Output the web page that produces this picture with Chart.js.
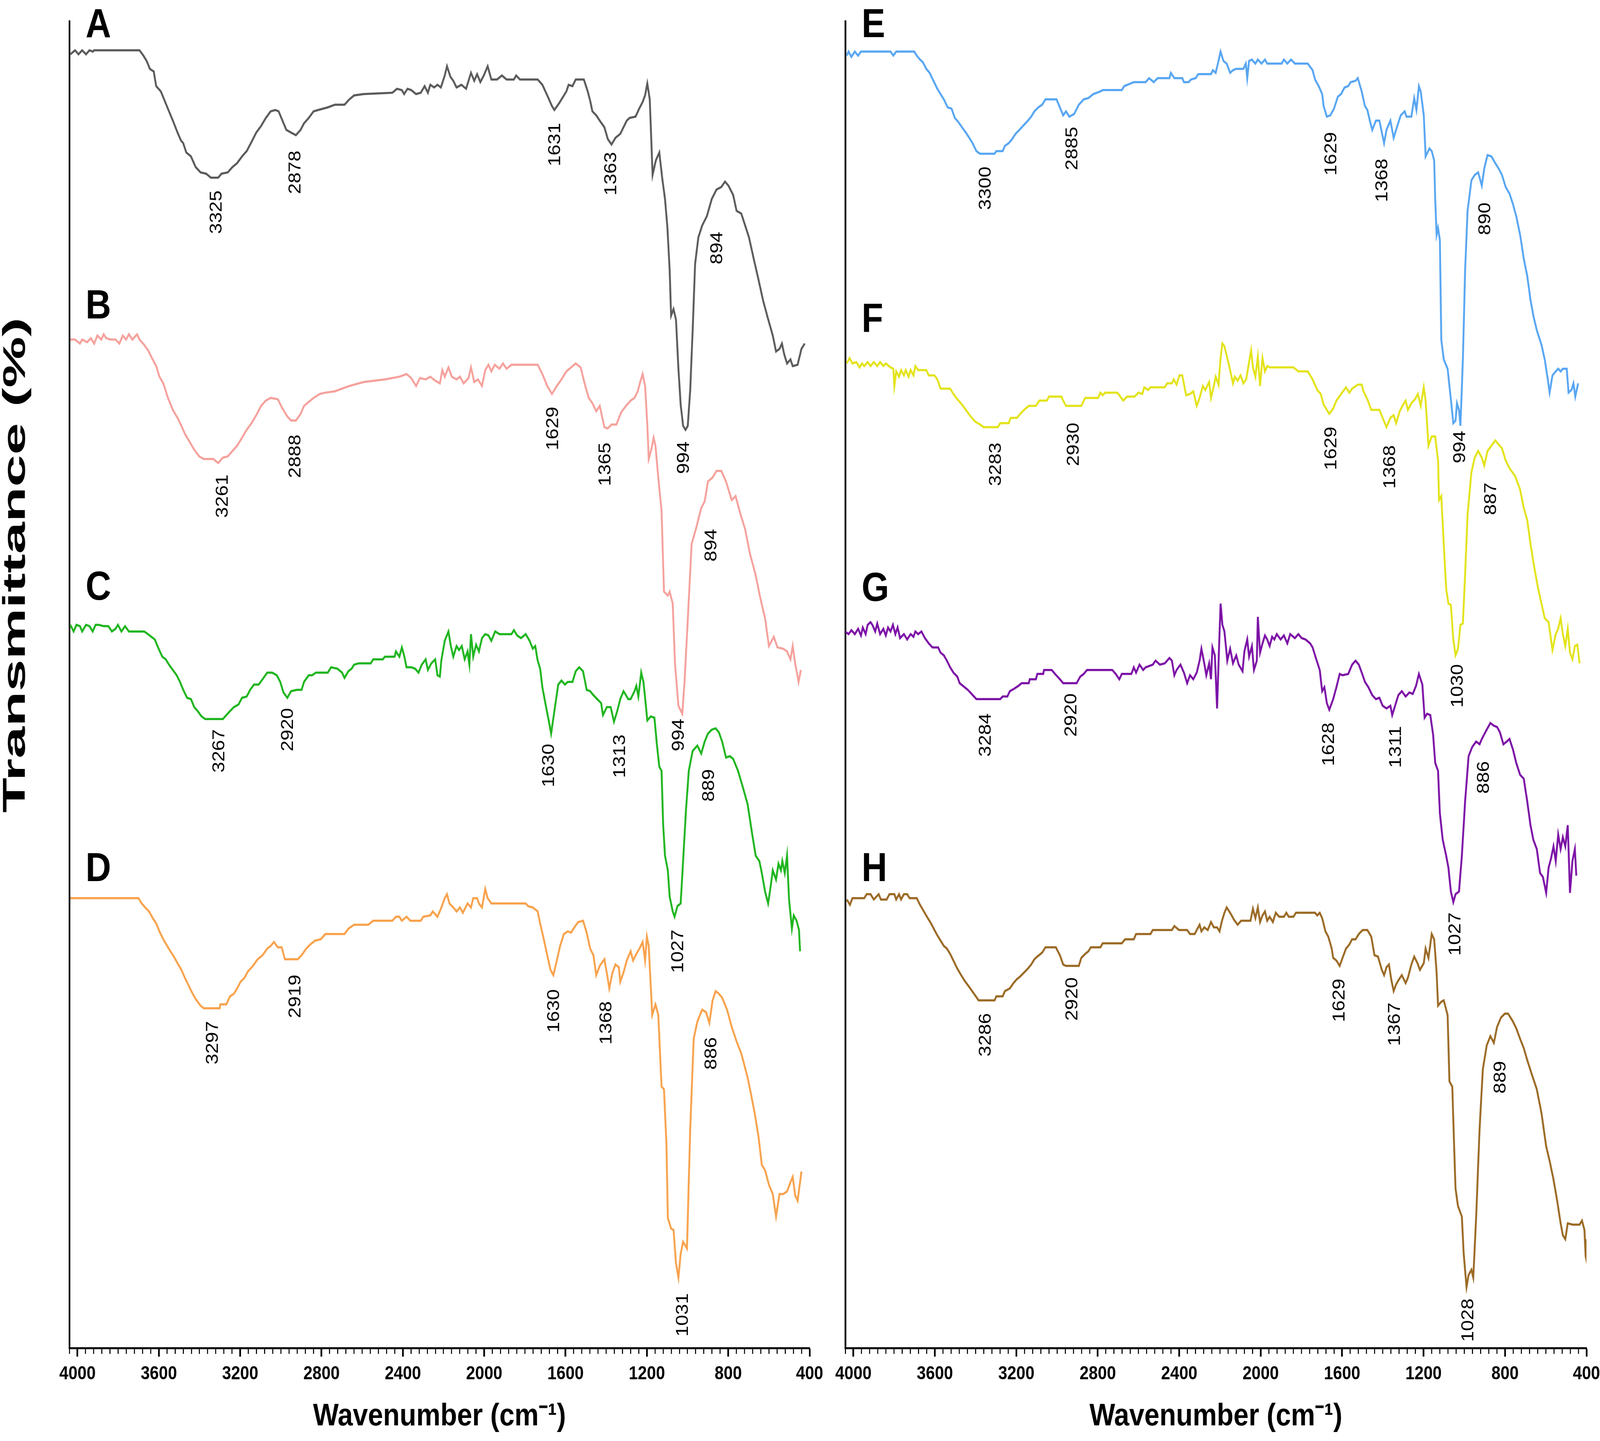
<!DOCTYPE html>
<html>
<head>
<meta charset="utf-8">
<title>FTIR spectra A-H</title>
<script src="https://cdn.jsdelivr.net/npm/chart.js@4.4.1/dist/chart.umd.min.js"></script>
<style>
  html, body { margin: 0; padding: 0; background: #fff; overflow: hidden; }
  #wrap { position: relative; overflow: hidden; background: #fff; }
  canvas { position: absolute; top: 0; }
</style>
</head>
<body>
<div id="wrap">
  <canvas id="left" width="2440" height="3688"></canvas>
  <canvas id="right" width="2300" height="3688"></canvas>
</div>
<script>
// wavenumber (cm-1), transmittance (offset per trace, arbitrary %)
const spectrumA = [[4035,97.5],[4012,97.8],[3995,97.5],[3977,97.8],[3958,97.5],[3941,97.8],[3925,97.7],[3918,97.8],[3695,97.8],[3676,97.4],[3660,97.0],[3644,96.4],[3625,96.2],[3613,95.1],[3590,94.7],[3566,93.8],[3550,93.2],[3531,92.5],[3508,91.6],[3491,91.0],[3480,90.8],[3465,90.1],[3442,89.8],[3419,89.0],[3395,88.6],[3367,88.5],[3344,88.2],[3308,88.2],[3292,88.5],[3261,88.6],[3238,89.0],[3215,89.3],[3191,89.8],[3168,90.2],[3144,90.9],[3121,91.6],[3097,92.1],[3074,92.7],[3050,93.2],[3027,93.3],[3011,93.2],[2992,92.5],[2973,91.8],[2950,91.6],[2926,91.4],[2903,91.8],[2886,92.3],[2863,92.7],[2839,93.2],[2816,93.3],[2769,93.5],[2734,93.7],[2687,93.7],[2663,94.1],[2640,94.4],[2593,94.5],[2452,94.6],[2429,94.9],[2405,94.8],[2394,94.5],[2377,94.9],[2359,94.8],[2335,94.5],[2312,94.6],[2293,95.1],[2277,94.6],[2265,95.2],[2246,95.0],[2230,95.2],[2213,95.0],[2194,95.9],[2183,96.6],[2166,95.8],[2152,95.5],[2136,95.0],[2112,95.2],[2089,94.9],[2065,96.1],[2049,95.5],[2035,96.0],[2019,95.4],[2002,95.9],[1983,96.6],[1965,95.6],[1937,95.6],[1913,95.9],[1890,95.6],[1854,95.6],[1843,95.9],[1824,95.6],[1737,95.6],[1714,95.2],[1690,94.4],[1667,93.6],[1655,93.3],[1632,93.8],[1596,94.7],[1585,95.2],[1566,95.1],[1550,95.6],[1510,95.6],[1491,94.7],[1479,94.0],[1468,93.2],[1449,92.9],[1432,92.5],[1409,92.0],[1392,91.1],[1374,90.7],[1355,91.2],[1331,91.5],[1315,92.0],[1299,92.5],[1285,92.7],[1256,92.8],[1238,93.4],[1221,93.9],[1209,94.4],[1198,95.3],[1186,94.1],[1172,88.4],[1156,89.5],[1139,90.1],[1125,88.2],[1111,86.6],[1099,84.4],[1088,81.2],[1081,77.8],[1069,78.3],[1057,77.5],[1045,73.8],[1034,71.1],[1022,69.5],[1010,69.2],[999,69.5],[987,72.2],[975,76.7],[963,81.7],[947,83.7],[928,84.6],[905,85.3],[881,86.6],[858,87.3],[834,87.5],[816,87.9],[799,87.6],[776,86.9],[759,85.7],[736,85.5],[717,84.6],[698,83.7],[675,82.1],[651,80.5],[628,78.9],[605,77.6],[581,76.3],[565,75.1],[548,75.3],[536,75.7],[525,74.9],[511,74.2],[494,74.5],[483,74.0],[459,74.1],[440,75.3],[424,75.7]];
const spectrumB = [[4035,76.0],[4012,76.0],[3988,75.7],[3977,76.0],[3953,75.8],[3934,76.1],[3918,75.7],[3902,76.3],[3883,76.0],[3871,76.4],[3859,76.1],[3836,76.0],[3813,76.0],[3794,75.7],[3777,76.3],[3761,76.0],[3747,76.4],[3730,76.0],[3707,76.4],[3695,76.0],[3672,75.6],[3653,75.2],[3637,74.7],[3613,74.0],[3597,73.2],[3578,72.7],[3555,71.6],[3531,70.7],[3508,70.1],[3489,69.5],[3472,68.9],[3449,68.3],[3426,67.7],[3402,67.2],[3379,67.0],[3332,67.0],[3308,66.7],[3285,67.1],[3261,67.2],[3238,67.6],[3215,68.0],[3191,68.6],[3168,69.2],[3144,69.7],[3121,70.3],[3097,71.0],[3074,71.4],[3050,71.6],[3015,71.5],[2992,70.8],[2968,70.2],[2950,69.9],[2926,69.9],[2903,70.4],[2886,71.0],[2863,71.3],[2839,71.6],[2809,71.9],[2781,72.0],[2734,72.1],[2699,72.3],[2663,72.5],[2593,72.8],[2488,73.0],[2417,73.2],[2382,73.4],[2359,73.1],[2335,72.5],[2316,73.1],[2288,73.0],[2265,73.2],[2241,72.9],[2218,72.7],[2206,73.7],[2194,73.2],[2176,73.9],[2159,73.2],[2136,73.0],[2119,73.2],[2101,72.7],[2077,73.1],[2065,73.9],[2049,72.8],[2031,73.0],[2011,72.5],[1995,73.7],[1979,74.1],[1965,73.6],[1948,74.1],[1925,73.8],[1908,74.2],[1890,73.8],[1866,74.1],[1737,74.1],[1714,73.4],[1690,72.5],[1667,71.9],[1643,72.5],[1620,73.0],[1596,73.6],[1573,73.9],[1550,74.2],[1526,73.9],[1503,72.5],[1486,71.6],[1468,71.2],[1449,70.6],[1432,71.0],[1409,69.4],[1393,69.3],[1374,69.6],[1350,69.6],[1327,70.5],[1303,71.0],[1280,71.4],[1261,71.6],[1245,72.1],[1233,72.8],[1221,73.4],[1209,72.5],[1198,69.6],[1191,67.0],[1177,67.8],[1167,68.6],[1158,68.0],[1144,65.6],[1128,63.1],[1116,57.0],[1097,56.7],[1088,57.0],[1073,56.1],[1062,51.6],[1045,48.4],[1026,47.8],[1015,50.2],[999,54.9],[980,60.6],[956,61.9],[933,63.3],[916,63.8],[900,65.3],[877,65.6],[858,66.1],[834,66.1],[811,65.3],[783,63.9],[764,64.2],[741,62.9],[717,61.7],[694,59.9],[666,58.3],[642,56.5],[619,55.0],[600,52.9],[576,53.6],[558,52.8],[530,52.7],[511,52.5],[494,51.9],[483,52.9],[471,51.6],[454,50.2],[443,51.1]];
const spectrumC = [[4035,54.5],[4019,54.0],[4005,54.5],[3988,54.4],[3977,54.0],[3958,54.5],[3941,54.4],[3925,54.0],[3911,54.5],[3895,54.5],[3871,54.4],[3848,54.4],[3831,54.0],[3813,54.2],[3801,54.5],[3784,54.0],[3766,54.4],[3747,54.0],[3672,54.0],[3653,53.8],[3637,53.6],[3620,53.4],[3601,52.7],[3583,52.1],[3566,51.9],[3550,51.5],[3531,51.1],[3512,50.7],[3496,50.2],[3480,49.6],[3461,49.0],[3442,48.9],[3426,48.3],[3409,48.0],[3390,47.6],[3372,47.4],[3285,47.4],[3268,47.7],[3250,48.0],[3231,48.3],[3208,48.5],[3191,49.0],[3168,49.1],[3151,49.6],[3132,50.0],[3109,50.0],[3090,50.4],[3067,50.9],[3043,50.9],[3020,50.7],[3003,50.2],[2987,49.4],[2968,49.0],[2950,49.5],[2921,49.6],[2898,49.6],[2886,50.2],[2863,50.7],[2846,50.7],[2828,50.9],[2769,50.9],[2753,51.3],[2722,51.2],[2699,50.9],[2687,50.5],[2668,51.0],[2652,51.2],[2640,51.5],[2617,51.6],[2558,51.6],[2546,51.9],[2499,51.9],[2488,52.1],[2441,52.1],[2434,52.5],[2417,52.1],[2405,52.8],[2394,52.2],[2382,51.3],[2359,51.3],[2340,51.2],[2323,50.9],[2307,51.5],[2288,51.9],[2277,51.1],[2260,51.6],[2241,51.9],[2230,50.7],[2218,50.6],[2211,51.8],[2194,53.3],[2176,54.0],[2164,52.9],[2152,52.1],[2136,52.9],[2124,52.6],[2110,52.9],[2096,51.9],[2082,52.5],[2073,51.5],[2065,53.8],[2054,52.1],[2040,53.0],[2026,52.5],[2011,53.5],[1995,53.8],[1979,53.7],[1965,53.3],[1946,54.0],[1925,53.8],[1866,53.8],[1854,54.1],[1838,53.7],[1819,53.5],[1796,53.8],[1777,53.3],[1761,52.7],[1749,52.9],[1737,51.8],[1725,51.2],[1714,49.8],[1697,48.4],[1683,47.3],[1671,46.3],[1655,48.0],[1636,50.0],[1620,50.3],[1603,50.0],[1589,50.2],[1566,50.2],[1550,51.0],[1533,51.3],[1514,51.0],[1496,49.6],[1479,49.5],[1463,49.2],[1444,48.9],[1425,48.6],[1416,47.7],[1397,48.3],[1378,48.3],[1362,47.2],[1346,48.0],[1331,48.9],[1315,49.5],[1303,49.2],[1292,48.9],[1280,48.9],[1261,49.5],[1252,49.9],[1242,49.1],[1228,50.9],[1217,50.2],[1205,48.4],[1198,47.3],[1181,47.6],[1163,47.5],[1151,45.5],[1139,43.8],[1128,43.5],[1120,39.4],[1111,37.1],[1097,36.0],[1088,34.0],[1073,32.9],[1064,32.5],[1050,33.3],[1034,33.5],[1022,36.7],[1008,40.5],[994,43.5],[975,45.0],[952,45.4],[933,44.8],[916,45.7],[900,46.3],[881,46.6],[862,46.7],[846,46.4],[830,45.7],[811,44.5],[792,44.6],[776,44.4],[752,43.5],[729,42.3],[705,41.0],[682,38.7],[665,37.1],[647,36.7],[635,35.8],[619,34.4],[604,33.5],[595,34.4],[581,36.0],[565,35.3],[553,36.5],[541,36.0],[534,36.7],[522,35.8],[511,37.1],[501,33.8],[487,31.6],[478,32.6],[464,32.2],[452,31.5],[447,29.9]];
const spectrumD = [[4035,33.9],[3700,33.9],[3684,33.5],[3667,33.2],[3648,32.9],[3630,32.4],[3613,32.0],[3597,31.4],[3578,30.8],[3559,30.3],[3543,29.9],[3526,29.5],[3508,29.0],[3489,28.5],[3472,27.9],[3456,27.4],[3437,26.8],[3419,26.3],[3395,25.8],[3379,25.6],[3301,25.6],[3297,25.9],[3268,25.9],[3250,26.5],[3231,26.7],[3215,27.1],[3198,27.6],[3179,27.9],[3161,28.4],[3137,28.8],[3114,29.3],[3090,29.6],[3067,30.1],[3050,30.3],[3034,30.6],[3015,30.2],[2996,30.2],[2980,29.3],[2917,29.3],[2898,29.6],[2875,30.1],[2856,30.4],[2832,30.7],[2804,30.8],[2781,31.2],[2687,31.2],[2668,31.6],[2640,31.9],[2570,31.9],[2546,32.2],[2452,32.2],[2434,32.5],[2417,32.5],[2405,32.2],[2382,32.5],[2363,32.2],[2312,32.2],[2300,32.5],[2265,32.6],[2253,32.9],[2230,32.5],[2213,33.1],[2194,33.9],[2183,34.2],[2171,33.5],[2152,33.2],[2136,32.9],[2119,33.2],[2105,32.8],[2082,33.5],[2065,33.2],[2054,33.9],[2035,33.9],[2026,33.5],[2011,33.2],[1995,34.6],[1983,33.9],[1965,33.5],[1796,33.5],[1784,33.3],[1761,33.2],[1737,32.9],[1725,32.0],[1707,30.8],[1690,29.6],[1674,28.5],[1660,28.1],[1643,29.2],[1627,30.3],[1608,31.2],[1589,31.4],[1573,31.3],[1557,31.7],[1538,32.1],[1514,32.2],[1496,31.3],[1479,30.1],[1463,29.6],[1449,28.1],[1432,28.8],[1409,29.3],[1392,27.8],[1385,27.1],[1369,28.3],[1355,28.9],[1338,28.7],[1331,27.6],[1315,28.3],[1299,29.2],[1280,29.9],[1268,29.2],[1252,29.7],[1233,30.2],[1221,30.6],[1209,29.2],[1200,31.0],[1191,30.3],[1174,25.1],[1158,25.9],[1144,25.1],[1128,19.7],[1116,19.5],[1104,15.4],[1097,9.8],[1081,9.0],[1069,8.9],[1057,6.4],[1045,5.3],[1034,7.1],[1022,8.0],[1003,7.5],[987,16.5],[970,23.3],[952,24.6],[928,25.5],[909,25.3],[893,24.5],[877,26.2],[862,26.9],[846,26.7],[830,26.4],[806,25.5],[783,24.2],[759,23.1],[736,22.2],[705,20.4],[689,19.2],[670,17.7],[651,15.9],[635,13.8],[619,13.4],[600,12.3],[581,11.6],[565,9.9],[548,11.6],[530,11.6],[511,11.8],[494,12.5],[483,12.9],[471,11.5],[459,11.1],[440,13.3]];
const spectrumE = [[4033,97.4],[4024,97.7],[4010,97.3],[3993,97.7],[3977,97.4],[3963,97.7],[3818,97.7],[3804,97.4],[3790,97.7],[3701,97.7],[3689,97.4],[3673,97.1],[3659,96.9],[3642,96.4],[3626,96.1],[3607,95.5],[3588,94.9],[3572,94.5],[3556,94.1],[3537,93.5],[3518,93.4],[3502,92.7],[3485,92.4],[3467,92.0],[3448,91.6],[3431,91.2],[3415,90.8],[3396,90.2],[3378,90.0],[3307,90.0],[3298,90.2],[3267,90.2],[3256,90.6],[3237,90.8],[3221,91.1],[3204,91.5],[3185,91.8],[3167,92.1],[3143,92.5],[3127,92.8],[3111,93.2],[3092,93.5],[3073,93.7],[3057,94.1],[3003,94.1],[2986,93.5],[2970,92.9],[2956,93.2],[2940,92.8],[2916,93.0],[2893,93.7],[2869,94.1],[2846,94.2],[2822,94.5],[2787,94.7],[2776,94.8],[2682,94.8],[2670,95.1],[2623,95.4],[2565,95.4],[2548,95.7],[2525,95.4],[2506,95.7],[2448,95.7],[2441,96.1],[2424,95.7],[2385,95.7],[2377,95.4],[2354,95.4],[2342,95.6],[2319,95.7],[2307,96.0],[2244,96.0],[2235,96.3],[2221,96.1],[2207,97.0],[2197,97.7],[2183,97.0],[2167,96.8],[2150,96.1],[2136,96.3],[2120,96.4],[2085,96.4],[2073,96.8],[2066,95.7],[2057,97.0],[2043,97.1],[2026,96.8],[2014,97.1],[1996,96.8],[1979,97.1],[1968,96.8],[1897,96.8],[1886,97.1],[1869,96.8],[1851,97.1],[1832,96.8],[1769,96.8],[1745,96.3],[1733,95.6],[1715,95.1],[1698,94.5],[1691,93.6],[1675,92.8],[1658,92.9],[1640,93.4],[1621,94.3],[1605,94.5],[1588,95.0],[1570,95.1],[1558,95.4],[1534,95.5],[1523,95.7],[1504,94.7],[1488,93.6],[1476,93.3],[1464,92.5],[1452,91.8],[1434,92.5],[1417,92.5],[1394,90.8],[1382,91.8],[1363,92.5],[1347,91.2],[1331,92.0],[1312,92.9],[1293,93.2],[1284,92.8],[1260,92.8],[1246,94.2],[1235,93.3],[1223,95.1],[1214,94.7],[1199,92.9],[1190,89.8],[1171,90.4],[1160,90.2],[1148,89.5],[1143,86.6],[1136,83.9],[1129,84.4],[1120,83.5],[1113,76.0],[1101,74.5],[1082,73.8],[1066,71.5],[1054,69.7],[1043,69.9],[1036,71.2],[1026,70.7],[1019,69.5],[1007,74.5],[996,81.2],[984,85.7],[965,88.0],[949,88.4],[932,88.6],[914,87.6],[902,88.9],[886,89.9],[867,89.8],[848,89.3],[832,88.9],[815,88.4],[797,87.5],[778,87.0],[761,86.2],[745,85.3],[726,83.9],[708,82.1],[691,80.8],[675,79.0],[661,77.8],[644,76.7],[621,75.6],[605,74.5],[591,73.1],[581,72.0],[567,73.3],[551,73.6],[539,73.8],[527,73.6],[516,73.8],[497,73.8],[488,72.0],[474,72.2],[464,72.7],[455,71.7],[441,72.7]];
const spectrumF = [[4033,74.2],[4019,74.6],[4005,74.2],[3986,74.3],[3970,73.9],[3958,74.2],[3947,74.0],[3930,74.3],[3916,74.0],[3900,74.3],[3883,74.0],[3869,74.3],[3853,74.0],[3841,74.2],[3818,73.9],[3804,73.8],[3799,72.5],[3790,73.6],[3776,73.2],[3766,73.7],[3752,73.3],[3743,73.7],[3729,73.2],[3719,73.7],[3705,73.3],[3696,74.0],[3682,73.7],[3642,73.7],[3630,73.3],[3602,73.3],[3588,73.0],[3572,72.3],[3525,72.3],[3513,72.0],[3495,71.6],[3478,71.3],[3462,71.0],[3443,70.6],[3424,70.2],[3401,69.8],[3378,69.6],[3361,69.4],[3291,69.4],[3279,69.7],[3237,69.7],[3228,70.1],[3197,70.1],[3181,70.4],[3162,70.7],[3139,71.0],[3104,71.0],[3087,71.4],[3050,71.4],[3040,71.7],[2979,71.7],[2970,71.4],[2956,71.0],[2881,71.0],[2862,71.6],[2799,71.6],[2787,72.0],[2776,71.8],[2764,72.0],[2705,72.0],[2694,71.8],[2675,71.4],[2656,71.7],[2619,71.7],[2600,72.0],[2581,71.9],[2572,72.4],[2553,72.2],[2541,72.4],[2471,72.4],[2459,72.7],[2436,72.7],[2427,73.0],[2413,72.6],[2399,73.3],[2385,73.3],[2375,72.5],[2366,71.8],[2347,71.9],[2331,72.1],[2314,71.0],[2300,71.6],[2284,72.5],[2272,72.2],[2253,72.8],[2244,71.6],[2230,72.5],[2221,73.2],[2207,72.6],[2197,74.6],[2188,75.7],[2178,75.5],[2164,74.6],[2150,73.7],[2136,72.7],[2127,73.2],[2113,72.9],[2099,73.3],[2085,72.7],[2071,73.0],[2057,74.3],[2047,75.2],[2038,73.9],[2026,73.2],[2014,74.7],[2003,72.5],[1991,74.6],[1979,73.6],[1968,74.0],[1956,73.9],[1839,73.9],[1815,73.6],[1769,73.6],[1745,73.0],[1722,72.2],[1705,71.9],[1691,71.1],[1675,70.7],[1663,70.4],[1644,70.8],[1628,71.4],[1605,71.9],[1581,72.4],[1565,72.0],[1551,72.3],[1523,72.6],[1504,72.6],[1495,72.1],[1476,71.5],[1457,70.7],[1417,70.7],[1401,70.1],[1382,69.4],[1363,70.1],[1347,70.3],[1335,69.7],[1317,70.6],[1300,71.1],[1288,71.4],[1277,70.7],[1260,71.2],[1242,71.5],[1228,71.9],[1214,71.0],[1199,72.4],[1190,71.4],[1176,68.0],[1160,68.7],[1143,68.7],[1129,66.9],[1124,63.9],[1113,64.2],[1101,60.6],[1089,57.2],[1078,56.1],[1066,56.0],[1054,53.4],[1043,52.2],[1031,52.7],[1019,54.5],[1007,54.6],[996,58.3],[984,62.8],[965,66.0],[949,67.1],[932,67.6],[914,67.1],[902,66.5],[886,67.6],[867,68.0],[848,68.4],[832,68.1],[815,67.8],[797,66.9],[778,66.3],[750,65.7],[726,64.7],[708,63.3],[691,62.4],[675,60.6],[656,58.8],[637,57.2],[621,56.1],[605,55.0],[586,54.7],[567,52.6],[551,53.8],[539,54.2],[527,55.0],[516,53.8],[504,52.9],[492,54.2],[481,52.4],[469,51.9],[457,52.9],[445,53.0],[434,51.6]];
const spectrumG = [[4040,54.0],[4024,53.8],[4010,54.1],[3993,53.8],[3977,54.2],[3963,53.7],[3954,54.3],[3940,53.8],[3930,54.5],[3916,54.7],[3907,54.5],[3893,54.0],[3883,54.6],[3869,53.8],[3853,54.2],[3841,53.7],[3830,54.3],[3818,54.0],[3806,54.5],[3794,53.8],[3783,54.3],[3771,53.5],[3752,53.8],[3736,53.4],[3719,53.8],[3705,53.6],[3696,54.0],[3682,53.8],[3666,54.0],[3649,53.5],[3630,53.1],[3612,52.8],[3584,52.8],[3572,52.4],[3556,52.2],[3541,51.8],[3525,51.3],[3509,50.9],[3490,50.6],[3478,50.1],[3462,49.9],[3438,49.6],[3420,49.3],[3396,48.9],[3279,48.9],[3267,49.1],[3244,49.1],[3232,49.5],[3209,49.7],[3190,49.9],[3174,50.1],[3139,50.1],[3134,50.4],[3104,50.4],[3097,50.8],[3068,50.8],[3064,51.1],[3026,51.1],[3010,50.8],[2986,50.4],[2970,50.1],[2904,50.1],[2886,50.6],[2869,50.8],[2853,51.1],[2729,51.1],[2712,50.8],[2694,50.4],[2682,50.8],[2635,50.8],[2623,51.3],[2612,50.9],[2595,51.5],[2577,51.1],[2565,51.3],[2530,51.5],[2516,51.8],[2495,51.5],[2471,51.6],[2448,52.0],[2436,51.8],[2424,50.7],[2413,51.1],[2394,51.5],[2377,50.9],[2361,50.1],[2347,50.7],[2331,50.4],[2314,50.9],[2300,51.8],[2291,52.7],[2277,51.6],[2267,50.7],[2253,51.6],[2244,50.4],[2237,52.8],[2225,52.2],[2214,48.2],[2207,51.6],[2197,56.1],[2188,54.5],[2178,54.0],[2164,51.8],[2150,52.7],[2136,51.6],[2120,52.2],[2108,51.5],[2089,51.0],[2080,52.5],[2066,53.4],[2057,52.1],[2043,52.9],[2033,51.1],[2019,51.8],[2014,55.1],[2003,52.4],[1991,53.1],[1979,53.7],[1968,53.4],[1956,52.9],[1944,53.6],[1933,53.4],[1921,53.8],[1902,53.4],[1886,53.7],[1869,53.1],[1855,53.8],[1832,53.5],[1815,53.8],[1799,53.5],[1780,53.4],[1757,53.1],[1745,52.8],[1729,52.0],[1710,51.1],[1698,49.5],[1687,49.8],[1675,48.6],[1663,48.1],[1644,48.9],[1628,49.8],[1612,50.8],[1598,50.7],[1570,50.8],[1551,51.5],[1534,51.8],[1518,51.5],[1499,50.7],[1488,50.2],[1471,49.8],[1452,49.2],[1434,48.9],[1417,49.0],[1401,48.4],[1382,48.2],[1363,48.4],[1354,47.7],[1340,48.4],[1324,49.2],[1307,49.5],[1288,49.1],[1270,49.4],[1253,49.3],[1237,49.9],[1223,50.8],[1206,50.0],[1195,47.5],[1183,47.8],[1167,47.7],[1153,46.2],[1143,44.1],[1129,43.5],[1120,40.3],[1106,38.3],[1089,37.1],[1078,36.2],[1066,34.4],[1054,33.6],[1043,34.2],[1026,34.4],[1012,37.1],[996,41.2],[979,44.6],[961,45.3],[942,45.7],[925,45.5],[914,45.9],[890,46.6],[872,47.1],[855,46.9],[839,46.8],[825,46.4],[808,45.5],[792,45.7],[778,45.9],[761,45.1],[745,44.1],[726,43.2],[708,42.9],[691,41.2],[675,39.4],[661,38.3],[644,37.6],[628,35.8],[614,35.5],[598,34.3],[586,36.2],[574,36.9],[562,37.8],[551,36.7],[539,38.7],[527,37.6],[516,38.5],[504,37.8],[492,39.4],[481,34.3],[469,36.7],[457,37.6],[450,35.6]];
const spectrumH = [[4033,33.8],[4017,33.4],[4005,33.9],[3947,33.9],[3935,34.2],[3916,34.2],[3900,33.8],[3876,34.2],[3865,33.8],[3837,33.8],[3823,34.2],[3799,34.2],[3790,33.8],[3776,34.2],[3766,33.8],[3752,34.2],[3736,34.2],[3724,33.9],[3689,33.9],[3673,33.4],[3654,32.9],[3635,32.4],[3619,32.0],[3602,31.5],[3588,31.1],[3572,30.7],[3556,30.3],[3541,30.1],[3525,29.7],[3509,29.2],[3490,28.6],[3471,28.1],[3455,27.7],[3431,27.2],[3408,26.7],[3385,26.2],[3307,26.2],[3298,26.5],[3267,26.5],[3256,26.9],[3232,27.1],[3214,27.5],[3197,27.8],[3181,28.0],[3162,28.3],[3143,28.6],[3127,28.9],[3111,29.3],[3097,29.5],[3073,29.8],[3057,30.2],[3006,30.2],[2986,29.6],[2970,28.9],[2956,28.8],[2893,28.8],[2881,29.4],[2862,29.7],[2846,29.9],[2834,30.2],[2787,30.2],[2776,30.5],[2682,30.5],[2666,30.8],[2623,30.8],[2612,31.2],[2541,31.2],[2530,31.5],[2436,31.5],[2424,31.8],[2401,31.5],[2361,31.5],[2347,31.2],[2324,31.2],[2314,31.5],[2300,31.9],[2291,31.4],[2277,31.7],[2260,31.5],[2244,32.1],[2230,31.7],[2214,31.7],[2202,31.4],[2190,32.2],[2178,32.8],[2167,33.2],[2150,32.8],[2132,32.3],[2113,31.9],[2096,32.2],[2050,32.2],[2038,33.1],[2026,32.4],[2014,33.2],[2003,32.1],[1991,32.6],[1979,32.9],[1968,32.2],[1956,32.5],[1940,32.1],[1926,32.8],[1909,32.5],[1886,32.5],[1874,32.8],[1862,32.5],[1839,32.5],[1827,32.8],[1733,32.8],[1722,32.6],[1710,32.8],[1698,32.4],[1682,31.4],[1668,31.0],[1651,30.1],[1644,29.4],[1628,29.2],[1612,28.8],[1598,29.4],[1581,30.1],[1565,30.4],[1551,30.8],[1534,30.8],[1518,31.2],[1499,31.5],[1476,31.5],[1457,31.0],[1441,29.6],[1424,29.5],[1405,28.5],[1394,28.1],[1382,28.7],[1370,28.9],[1359,27.8],[1347,26.9],[1335,27.4],[1324,27.7],[1307,28.1],[1288,27.5],[1277,27.9],[1260,28.9],[1246,29.5],[1230,29.0],[1218,28.5],[1199,29.0],[1190,30.1],[1176,29.4],[1160,31.2],[1148,30.8],[1136,28.3],[1129,25.8],[1113,26.1],[1101,26.2],[1082,25.1],[1073,20.1],[1059,19.7],[1050,15.2],[1043,12.0],[1031,10.7],[1012,9.9],[1003,7.1],[989,4.6],[979,5.5],[965,5.9],[956,5.3],[942,9.8],[925,16.5],[909,21.0],[890,22.8],[872,23.5],[855,23.0],[839,24.2],[820,24.9],[801,25.2],[785,25.2],[761,24.6],[745,24.1],[726,23.3],[708,22.6],[691,21.7],[668,20.6],[644,19.5],[621,17.7],[598,15.2],[581,14.1],[562,12.7],[544,11.1],[527,9.4],[516,8.5],[504,8.2],[492,9.4],[469,9.3],[434,9.3],[422,9.6],[410,8.9],[404,6.9],[401,6.7],[400,8.2]];

// peak annotations: [text, wavenumber, transmittance]
const peaksA = [['3325',3315,85.6],['2878',2926,88.6],['1631',1650,90.7],['1363',1374,88.5],['994',1017,67.1],['894',853,82.9]];
const peaksB = [['3261',3285,64.2],['2888',2926,67.2],['1629',1660,69.3],['1365',1402,66.6],['994',1041,46.2],['894',881,60.5]];
const peaksC = [['3267',3301,45.0],['2920',2964,46.6],['1630',1679,43.9],['1313',1331,44.6],['1027',1045,29.9],['889',893,42.4]];
const peaksD = [['3297',3332,23.0],['2919',2926,26.5],['1630',1655,25.4],['1368',1397,24.5],['1031',1022,2.5],['886',881,22.2]];
const peaksE = [['3300',3349,87.4],['2885',2923,90.4],['1629',1652,90.0],['1368',1401,88.0],['994',1019,67.9],['890',895,85.1]];
const peaksF = [['3283',3298,66.6],['2930',2916,68.1],['1629',1652,67.8],['1368',1363,66.4],['1030',1031,49.9],['887',867,64.0]];
const peaksG = [['3284',3349,46.2],['2920',2928,47.7],['1628',1663,45.5],['1311',1335,45.3],['1027',1043,31.2],['886',902,43.0]];
const peaksH = [['3286',3349,23.6],['2920',2923,26.3],['1629',1612,26.2],['1367',1340,24.4],['1028',979,2.1],['889',820,20.4]];

// panel letters and the level they sit at
const tagsLeft = [['A',98.8],['B',77.6],['C',56.4],['D',35.2]];
const tagsRight = [['E',98.8],['F',76.6],['G',56.3],['H',35.2]];

const xTicks = [4000, 3600, 3200, 2800, 2400, 2000, 1600, 1200, 800, 400];
const xTitle = 'Wavenumber (cm\u207B\u00B9)';
const yTitle = 'Transmittance (%)';

const FONT = '"Liberation Sans", Arial, Helvetica, sans-serif';
const tagWave = 3960;

// the figure is laid out in a 4708 x 3688 frame and stretched onto the viewport
const FRAME_W = 4708, FRAME_H = 3688;
const sx = (window.innerWidth || FRAME_W) / FRAME_W;
const sy = (window.innerHeight || FRAME_H) / FRAME_H;
const wrap = document.getElementById('wrap');
wrap.style.width = (FRAME_W * sx) + 'px';
wrap.style.height = (FRAME_H * sy) + 'px';
document.body.style.width = wrap.style.width;
document.body.style.height = wrap.style.height;

function place(id, left, width) {
  const c = document.getElementById(id);
  c.style.left = (left * sx) + 'px';
  c.style.width = (width * sx) + 'px';
  c.style.height = (FRAME_H * sy) + 'px';
}
place('left', 0, 2440);
place('right', 2440, 2300);

function annotator(peaks, tags, withTitle) {
  return {
    id: 'annotate',
    afterDatasetsDraw(chart) {
      const { ctx, chartArea, scales: { x, y } } = chart;
      ctx.save();
      ctx.fillStyle = '#000';
      ctx.font = '50px ' + FONT;
      ctx.textAlign = 'center';
      ctx.textBaseline = 'middle';
      peaks.forEach(([text, w, t]) => {
        ctx.save();
        ctx.translate(x.getPixelForValue(w), y.getPixelForValue(t));
        ctx.rotate(-Math.PI / 2);
        ctx.fillText(text, 0, 0);
        ctx.restore();
      });
      ctx.font = 'bold 104px ' + FONT;
      ctx.textAlign = 'left';
      ctx.textBaseline = 'alphabetic';
      tags.forEach(([letter, t]) => {
        ctx.fillText(letter, x.getPixelForValue(tagWave), y.getPixelForValue(t));
      });
      if (withTitle) {
        ctx.translate(48, chartArea.top + (chartArea.bottom - chartArea.top) * 0.41);
        ctx.rotate(-Math.PI / 2);
        ctx.scale(1.6, 1);
        ctx.font = 'bold 92px ' + FONT;
        ctx.textAlign = 'center';
        ctx.textBaseline = 'middle';
        ctx.fillText(yTitle, 0, 0);
      }
      ctx.restore();
    }
  };
}

function toPoints(spectrum) {
  return spectrum.map(([w, t]) => ({ x: w, y: t }));
}

function makeChart(id, series, colors, peaks, tags, padding, withTitle) {
  return new Chart(document.getElementById(id), {
    type: 'line',
    data: {
      datasets: series.map((s, i) => ({
        data: toPoints(s),
        borderColor: colors[i],
        borderWidth: 5.5,
        pointRadius: 0,
        tension: 0,
        fill: false
      }))
    },
    options: {
      responsive: false,
      animation: false,
      devicePixelRatio: 1,
      layout: { padding: padding },
      plugins: { legend: { display: false }, tooltip: { enabled: false } },
      scales: {
        x: {
          type: 'linear',
          position: 'bottom',
          reverse: true,
          min: 400,
          max: 4040,
          weight: 1,
          afterBuildTicks: s => { s.ticks = xTicks.map(v => ({ value: v })); },
          afterFit: s => { s.height = 238; },
          ticks: {
            autoSkip: false,
            maxRotation: 0,
            padding: 16,
            color: '#000',
            font: { family: FONT, size: 48, weight: 'bold' },
            callback: v => String(v)
          },
          grid: { drawOnChartArea: false, drawTicks: true, tickLength: 22, tickWidth: 5, tickColor: '#000' },
          border: { display: true, width: 5, color: '#000' },
          title: {
            display: true,
            text: xTitle,
            color: '#000',
            font: { family: FONT, size: 80, weight: 'bold' },
            padding: { top: 0, bottom: 14 }
          }
        },
        xMinor: {
          type: 'linear',
          position: 'bottom',
          reverse: true,
          min: 400,
          max: 4040,
          weight: 0,
          afterBuildTicks: s => {
            const t = [];
            for (let v = 400; v <= 4040; v += 40) t.push({ value: v });
            s.ticks = t;
          },
          afterFit: s => { s.height = 0; },
          ticks: { display: false },
          grid: { drawOnChartArea: false, drawTicks: true, tickLength: 15, tickWidth: 3, tickColor: '#000' },
          border: { display: false }
        },
        y: {
          type: 'linear',
          min: 0,
          max: 100,
          afterFit: s => { s.width = 0; },
          ticks: { display: false },
          grid: { display: false },
          border: { display: true, width: 5, color: '#000' }
        }
      }
    },
    plugins: [annotator(peaks, tags, withTitle)]
  });
}

makeChart('left',
  [spectrumA, spectrumB, spectrumC, spectrumD],
  ['#5b5b5b', '#f5a19c', '#1fb51f', '#f8a24c'],
  [].concat(peaksA, peaksB, peaksC, peaksD),
  tagsLeft,
  { left: 204, right: 58, top: 54, bottom: 0 },
  true);

makeChart('right',
  [spectrumE, spectrumF, spectrumG, spectrumH],
  ['#58a6f2', '#e3e31b', '#7c12a6', '#9b6a25'],
  [].concat(peaksE, peaksF, peaksG, peaksH),
  tagsRight,
  { left: 47, right: 72, top: 54, bottom: 0 },
  false);
</script>
</body>
</html>
